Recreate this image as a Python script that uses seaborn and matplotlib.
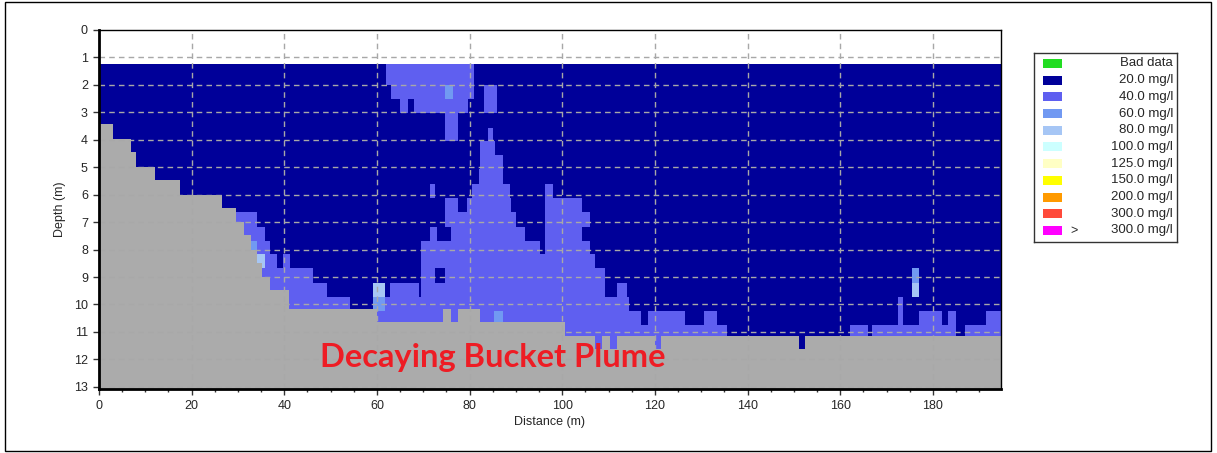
import numpy as np
import pandas as pd
import matplotlib
matplotlib.use("Agg")
import matplotlib.pyplot as plt
from matplotlib.colors import ListedColormap
from matplotlib.patches import Rectangle
import seaborn as sns

# ---------------- data ----------------
legend_labels = ["Bad data", "20.0 mg/l", "40.0 mg/l", "60.0 mg/l", "80.0 mg/l",
                 "100.0 mg/l", "125.0 mg/l", "150.0 mg/l", "200.0 mg/l",
                 "300.0 mg/l", "300.0 mg/l"]
legend_colors = ["#22dd22", "#000099", "#5f5ff0", "#7199f2", "#a6c6f5",
                 "#ccffff", "#ffffc4", "#ffff00", "#ff9a00", "#ff4a3a", "#ff00ff"]

# concentration classes present in the section (code -> legend index)
class_codes = {"D": 1, "M": 2, "L": 3, "P": 4}
bed_color = "#ababab"

# ADCP depth-bin edges (m)
bin_edges = [1.25, 2.00, 2.52, 3.03, 3.55, 4.06, 4.58, 5.09, 5.61, 6.12, 6.64,
             7.15, 7.67, 8.18, 8.70, 9.21, 9.73, 10.24, 10.76, 11.27, 11.79]

# each bin: background is 20 mg/l (D); segments "class start-end" in metres
bin_rows = [
    "M 62.1-80.9",
    "M 62.9-80.9; L 74.7-76.5; M 83.0-86.1",
    "M 64.9-66.8; M 67.9-79.7; M 83.0-86.1",
    "M 74.7-77.5",
    "M 74.7-77.5; M 84.0-85.1",
    "M 82.2-85.5",
    "M 82.2-87.3",
    "M 81.9-87.3",
    "M 71.5-72.5; M 80.4-88.7; M 96.3-98.1",
    "M 74.7-77.6; M 79.4-89.1; M 96.3-104.2",
    "M 28.5-34.0; M 74.7-90.1; M 96.3-106.0",
    "M 29.0-35.8; M 71.5-72.9; M 76.1-91.9; M 96.3-104.2",
    "L 32.6-34.0; M 34.0-37.0; M 69.6-95.2; M 96.3-106.0",
    "P 34.0-35.8; M 35.8-38.4; M 39.8-41.2; M 69.6-107.0",
    "M 34.0-46.3; M 69.6-72.5; M 74.7-109.2; L 175.4-177.1",
    "M 35.0-49.2; P 59.3-61.7; M 62.8-68.9; M 69.6-109.2; M 111.7-113.9; P 175.4-177.1",
    "M 36.0-54.2; L 59.3-61.7; M 61.7-114.6; M 172.5-173.4",
    "M 41.0-117.1; L 85.3-87.3; M 118.5-126.4; M 130.6-133.5; M 172.5-173.4; "
    "M 177.1-181.9; M 183.3-185.1; M 191.6-195.0",
    "M 41.0-135.5; M 162.1-165.9; M 166.8-185.1; M 186.9-195.0",
    "M 41.0-135.5",
]

# river bed (grey) as steps: x edges (m) and bed depth (m)
bed_x_edges = [0, 3, 7, 8, 12, 17.5, 26.5, 29.4, 31.2, 32.7, 33.9, 35.3, 36.9, 41,
               60, 74.3, 76.1, 77.6, 82.2, 100.6, 106.9, 108.5, 110.3, 111.7,
               119.9, 121.3, 151.1, 152.5, 195]
bed_depth = [3.45, 3.95, 4.45, 5.0, 5.5, 6.0, 6.5, 7.0, 7.5, 8.0, 8.5, 9.0, 9.5,
             10.15, 10.65, 10.15, 10.65, 10.15, 10.65, 11.17, 11.66, 11.17, 11.66,
             11.17, 11.66, 11.17, 11.66, 11.17]

x_ticks = [0, 20, 40, 60, 80, 100, 120, 140, 160, 180]
y_ticks = list(range(0, 14))
x_max, y_max = 194.7, 13.08
annotation = "Decaying Bucket Plume"

# ---------------- build the section grid ----------------
dx, dy = 0.25, 0.04
xc = (np.arange(int(np.ceil(x_max / dx))) + 0.5) * dx
yc = (np.arange(int(np.ceil(y_max / dy))) + 0.5) * dy
grid = np.full((len(yc), len(xc)), np.nan)

edges = np.array(bin_edges)
for r, spec in enumerate(bin_rows):
    rows = (yc >= edges[r]) & (yc < edges[r + 1])
    line = np.full(len(xc), float(class_codes["D"]))
    for seg in spec.split(";"):
        code, rng = seg.split()
        a, b = (float(v) for v in rng.split("-"))
        line[(xc >= a) & (xc < b)] = class_codes[code]
    grid[rows, :] = line

bed_idx = np.clip(np.searchsorted(bed_x_edges, xc, side="right") - 1, 0, len(bed_depth) - 1)
bed_at_x = np.array(bed_depth)[bed_idx]
grid[yc[:, None] >= bed_at_x[None, :]] = 5

df = pd.DataFrame(grid, index=yc, columns=xc)

# ---------------- plot ----------------
sns.set_style("white")
plt.rcParams["font.family"] = ["Liberation Sans", "DejaVu Sans"]

fig = plt.figure(figsize=(12.17, 4.53), dpi=100)
ax = fig.add_axes([99 / 1217, 1 - 389 / 453, (1001 - 99) / 1217, (389 - 30) / 453])

cmap = ListedColormap(legend_colors[1:5] + [bed_color])
sns.heatmap(df, ax=ax, cmap=cmap, vmin=0.5, vmax=5.5, cbar=False,
            xticklabels=False, yticklabels=False, rasterized=True)

ax.set_xlim(0, x_max / dx)
ax.set_ylim(y_max / dy, 0)

# dashed grid
for xv in x_ticks[1:]:
    ax.axvline(xv / dx, color="#a8a8a8", lw=1.0, ls=(0, (4, 3)), zorder=3)
for yv in y_ticks[1:]:
    ax.axhline(yv / dy, color="#a8a8a8", lw=1.0, ls=(0, (4, 3)), zorder=3)

ax.set_xticks([v / dx for v in x_ticks])
ax.set_xticklabels([str(v) for v in x_ticks], fontsize=9, rotation=0)
ax.set_xticks([v / dx for v in range(5, 195, 5) if v % 20], minor=True)
ax.set_yticks([v / dy for v in y_ticks])
ax.set_yticklabels([str(v) for v in y_ticks], fontsize=9, rotation=0)
ax.tick_params(axis="both", which="major", direction="out", length=4, width=1,
               color="#333333", pad=4)
ax.tick_params(axis="x", which="minor", direction="out", length=2.5, width=1,
               color="#333333")
ax.tick_params(left=True, bottom=True, which="both")

for name, s in ax.spines.items():
    s.set_visible(True)
    s.set_color("black")
    s.set_linewidth(2 if name in ("left", "bottom") else 1)
    s.set_zorder(5)

ax.set_xlabel("Distance (m)", fontsize=9, labelpad=3)
ax.set_ylabel("Depth (m)", fontsize=9, labelpad=6)

ax.text(47.7 / dx, 11.95 / dy, annotation, color="#ee1c24", fontsize=23.5,
        fontweight="bold", family=["Lato", "DejaVu Sans"], va="center",
        ha="left", zorder=6)

# legend box
lax = fig.add_axes([1034 / 1217, 1 - 242 / 453, 143 / 1217, 189 / 453])
lax.set_xlim(0, 143)
lax.set_ylim(189, 0)
lax.set_xticks([])
lax.set_yticks([])
for s in lax.spines.values():
    s.set_visible(True)
    s.set_color("#333333")
    s.set_linewidth(1)
for i, (lab, col) in enumerate(zip(legend_labels, legend_colors)):
    yc_ = 10.5 + 16.7 * i
    lax.add_patch(Rectangle((9, yc_ - 4.5), 19, 9, facecolor=col, edgecolor="none"))
    lax.text(139, yc_, lab, ha="right", va="center", fontsize=9.5)
lax.text(40, 10.5 + 16.7 * 10, ">", ha="center", va="center", fontsize=9)

# outer frame
fig.patches.append(Rectangle((0.004, 0.005), 0.991, 0.99, transform=fig.transFigure,
                             fill=False, edgecolor="black", lw=1))

fig.savefig("out.png", dpi=100)
